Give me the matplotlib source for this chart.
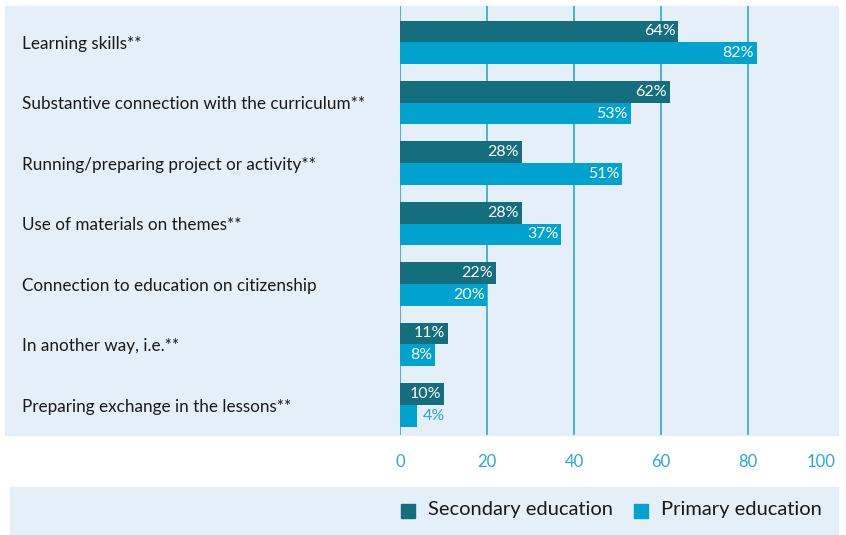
import numpy as np
import matplotlib
matplotlib.use('Agg')
import matplotlib.pyplot as plt
from matplotlib.patches import Rectangle

categories = ['Learning skills**',
              'Substantive connection with the curriculum**',
              'Running/preparing project or activity**',
              'Use of materials on themes**',
              'Connection to education on citizenship',
              'In another way, i.e.**',
              'Preparing exchange in the lessons**']
secondary = [64, 62, 28, 28, 22, 11, 10]
primary = [82, 53, 51, 37, 20, 8, 4]
ticks = [0, 20, 40, 60, 80, 100]

dark = '#146e7e'
light = '#00a2d0'
panel = '#e4eff8'
gridc = '#2aa8d2'

plt.rcParams['font.family'] = ['Lato', 'DejaVu Sans']

W, H = 846, 535
fig = plt.figure(figsize=(W / 100, H / 100), dpi=100)

# background panels (figure coords)
fig.patches.append(Rectangle((5 / W, 1 - 435 / H), 833 / W, 429 / H,
                             transform=fig.transFigure, color=panel, zorder=-2))
fig.patches.append(Rectangle((10 / W, 0), 828 / W, 48 / H,
                             transform=fig.transFigure, color=panel, zorder=-2))

ax = fig.add_axes([400 / W, 1 - 435 / H, 435 / W, 429 / H])
ax.set_zorder(2)
ax.patch.set_alpha(0)
ax.set_xlim(0, 100)
ax.set_ylim(6.5, -0.6)

y = np.arange(len(categories))
h = 0.36
for t in ticks[:-1]:
    ax.axvline(t, color=gridc, lw=1.2, zorder=1)
ax.barh(y - h / 2, secondary, height=h, color=dark, zorder=2)
ax.barh(y + h / 2, primary, height=h, color=light, zorder=2)

for i in range(len(categories)):
    for val, off in ((secondary[i], -h / 2), (primary[i], h / 2)):
        if val >= 7:
            ax.text(val - 0.6, i + off, f'{val}%', color='white', ha='right',
                    va='center', fontsize=11.5, zorder=3)
        else:
            ax.text(val + 1.2, i + off, f'{val}%', color=gridc, ha='left',
                    va='center', fontsize=11.5, zorder=3)
    ax.text(-378 / 435 * 100, i + 0.03, categories[i], fontsize=12.3,
            color='#1a1a1a', va='center', ha='left', clip_on=False)

for s in ax.spines.values():
    s.set_visible(False)
ax.set_yticks([])
ax.set_xticks(ticks)
ax.set_xticklabels([str(t) for t in ticks], color=gridc, fontsize=12)
ax.tick_params(axis='x', length=0, pad=14)
# last label sits a bit left so it stays inside the picture
ax.get_xticklabels()[-1].set_horizontalalignment('right')

# legend
fig.patches.append(Rectangle((401 / W, 17 / H), 14 / W, 14 / H,
                             transform=fig.transFigure, color=dark, zorder=1))
fig.text(428 / W, 25 / H, 'Secondary education', fontsize=14.5, color='#1a1a1a',
         va='center', ha='left')
fig.patches.append(Rectangle((634 / W, 17 / H), 14 / W, 14 / H,
                             transform=fig.transFigure, color=light, zorder=1))
fig.text(661 / W, 25 / H, 'Primary education', fontsize=14.5, color='#1a1a1a',
         va='center', ha='left')

fig.savefig('out.png', dpi=100)
